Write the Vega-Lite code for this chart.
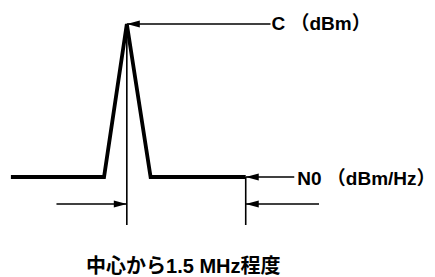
{
  "$schema": "https://vega.github.io/schema/vega-lite/v6.json",
  "width": 435,
  "height": 277,
  "padding": 0,
  "autosize": {"type": "fit", "contains": "padding"},
  "background": "white",
  "config": {"view": {"stroke": null}},
  "datasets": {
    "spectrum": [
      {"x": 11, "y": 100},
      {"x": 105, "y": 100},
      {"x": 128, "y": 253},
      {"x": 152, "y": 100},
      {"x": 248, "y": 100}
    ],
    "rules": [
      {"x": 128, "x2": 128, "y": 253, "y2": 52},
      {"x": 248, "x2": 248, "y": 100, "y2": 52},
      {"x": 128, "x2": 273, "y": 253, "y2": 253},
      {"x": 248, "x2": 297, "y": 100, "y2": 100},
      {"x": 57, "x2": 128, "y": 73, "y2": 73},
      {"x": 248, "x2": 322, "y": 73, "y2": 73}
    ],
    "heads": [
      {"x": 128, "y": 253, "angle": 0},
      {"x": 248, "y": 100, "angle": 0},
      {"x": 248, "y": 73, "angle": 0},
      {"x": 128, "y": 73, "angle": 180}
    ],
    "sideLabels": [
      {"x": 274, "y": 253, "text": "C （dBm）"},
      {"x": 300, "y": 98, "text": "N0 （dBm/Hz）"}
    ],
    "bottomLabel": [
      {"x": 185, "y": 10, "text": "中心から1.5 MHz程度"}
    ]
  },
  "layer": [
    {
      "data": {"name": "spectrum"},
      "mark": {"type": "line", "color": "black", "strokeWidth": 3.8, "strokeJoin": "miter", "strokeMiterLimit": 4, "strokeCap": "butt"},
      "encoding": {
        "x": {"field": "x", "type": "quantitative", "axis": null, "scale": {"domain": [0, 435], "nice": false, "zero": false}},
        "y": {"field": "y", "type": "quantitative", "axis": null, "scale": {"domain": [0, 277], "nice": false, "zero": false}}
      }
    },
    {
      "data": {"name": "rules"},
      "mark": {"type": "rule", "color": "black", "strokeWidth": 1.6},
      "encoding": {
        "x": {"field": "x", "type": "quantitative", "axis": null, "scale": {"domain": [0, 435], "nice": false, "zero": false}},
        "x2": {"field": "x2"},
        "y": {"field": "y", "type": "quantitative", "axis": null, "scale": {"domain": [0, 277], "nice": false, "zero": false}},
        "y2": {"field": "y2"}
      }
    },
    {
      "data": {"name": "heads"},
      "mark": {"type": "point", "shape": "M0,0L2,-0.55L2,0.55Z", "filled": true, "fill": "black", "fillOpacity": 1, "opacity": 1, "size": 169, "strokeWidth": 0},
      "encoding": {
        "x": {"field": "x", "type": "quantitative", "axis": null, "scale": {"domain": [0, 435], "nice": false, "zero": false}},
        "y": {"field": "y", "type": "quantitative", "axis": null, "scale": {"domain": [0, 277], "nice": false, "zero": false}},
        "angle": {"field": "angle", "type": "quantitative", "scale": null}
      }
    },
    {
      "data": {"name": "sideLabels"},
      "mark": {"type": "text", "color": "black", "font": "Liberation Sans, Noto Sans CJK JP", "fontWeight": "bold", "fontSize": 19, "baseline": "middle", "align": "left"},
      "encoding": {
        "x": {"field": "x", "type": "quantitative", "axis": null, "scale": {"domain": [0, 435], "nice": false, "zero": false}},
        "y": {"field": "y", "type": "quantitative", "axis": null, "scale": {"domain": [0, 277], "nice": false, "zero": false}},
        "text": {"field": "text"}
      }
    },
    {
      "data": {"name": "bottomLabel"},
      "mark": {"type": "text", "color": "black", "font": "Liberation Sans, Noto Sans CJK JP", "fontWeight": "bold", "fontSize": 20, "baseline": "middle", "align": "center"},
      "encoding": {
        "x": {"field": "x", "type": "quantitative", "axis": null, "scale": {"domain": [0, 435], "nice": false, "zero": false}},
        "y": {"field": "y", "type": "quantitative", "axis": null, "scale": {"domain": [0, 277], "nice": false, "zero": false}},
        "text": {"field": "text"}
      }
    }
  ]
}
